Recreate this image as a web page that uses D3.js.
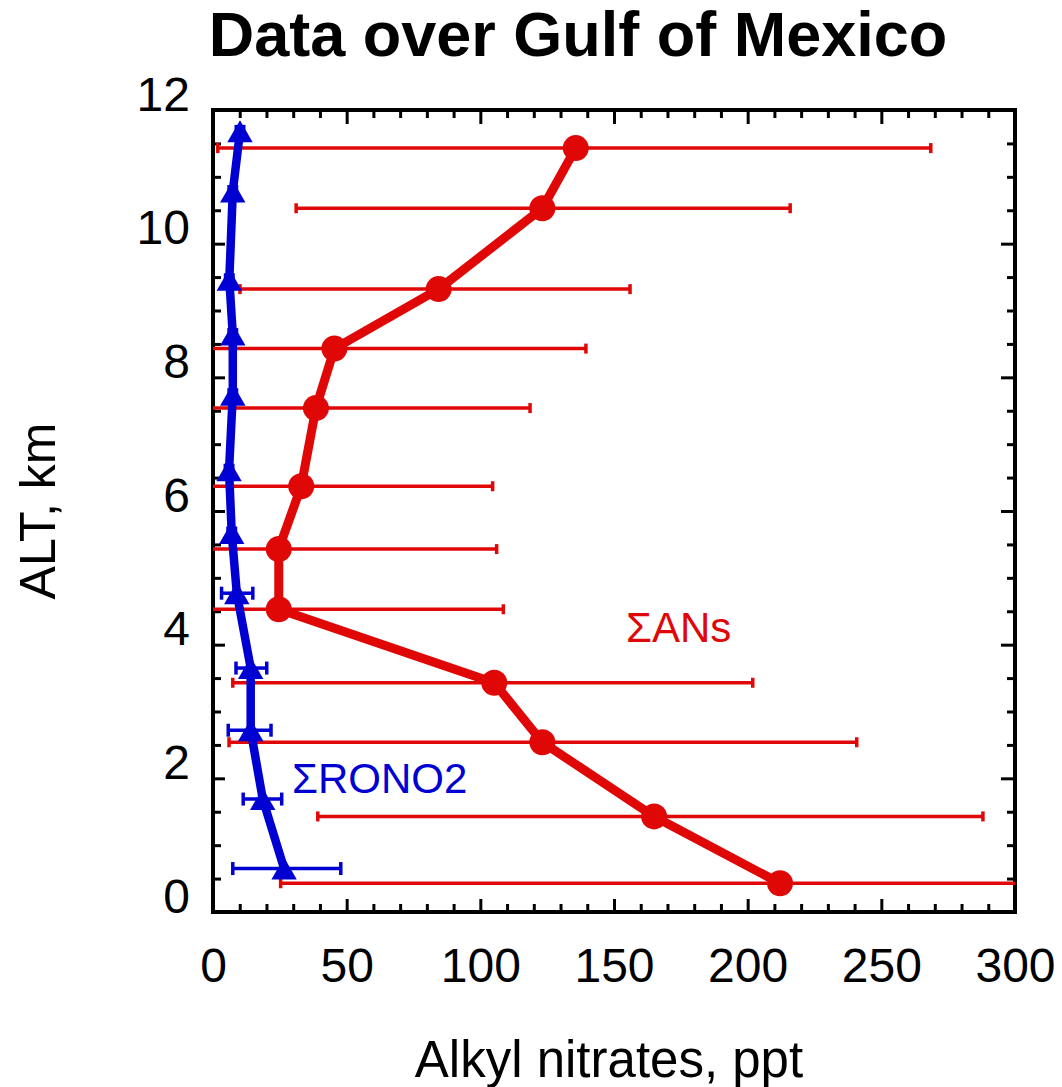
<!DOCTYPE html>
<html>
<head>
<meta charset="utf-8">
<script src="https://cdn.jsdelivr.net/npm/d3@7/dist/d3.min.js"></script>
<style>
  html, body { margin: 0; padding: 0; background: #fff; }
  svg { display: block; font-family: "Liberation Sans", Arial, sans-serif; }
</style>
</head>
<body>
<svg id="chart" width="1062" height="1087"></svg>
<script>
// ---- Data ----
const anAlt = [0.43, 1.43, 2.54, 3.43, 4.53, 5.43, 6.37, 7.54, 8.43, 9.32, 10.53, 11.43];
const anVal = [212.1, 165.0, 123.2, 105.2, 24.6, 24.6, 33.0, 38.5, 45.4, 84.4, 123.2, 135.7];
const anLo  = [25.3, 39.2, 6.0, 7.4, -10, -10, -10, -10, -10, 10.1, 31.1, 1.8];
const anHi  = [340, 288.0, 240.8, 201.9, 108.6, 106.1, 104.6, 118.6, 139.5, 156.0, 215.9, 268.5];

const roAlt = [0.65, 1.69, 2.72, 3.65, 4.77, 5.67, 6.61, 7.74, 8.64, 9.46, 10.78, 11.68];
const roVal = [26.6, 18.6, 14.1, 14.1, 8.9, 7.0, 6.0, 7.4, 7.4, 6.1, 7.4, 10.1];
const roLo  = [7.4, 11.3, 5.7, 8.6, 3.2, 5.6, 4.6, 6.0, 6.0, 4.7, 6.0, 8.7];
const roHi  = [47.8, 25.7, 21.7, 20.1, 14.9, 8.4, 7.4, 8.8, 8.8, 7.5, 8.8, 11.5];

const xTicks = [0, 50, 100, 150, 200, 250, 300];
const yTicks = [0, 2, 4, 6, 8, 10, 12];
const xMinor = d3.range(0, 301, 10);
const yMinor = d3.range(0, 12.01, 0.5);

const titleText = "Data over Gulf of Mexico";
const xLabel = "Alkyl nitrates, ppt";
const yLabel = "ALT, km";
const anLabel = "\u03A3ANs";
const roLabel = "\u03A3RONO2";

// ---- Layout ----
const RED = "#e00707", BLUE = "#0000d2";
const L = 213, R = 1015, T = 110, B = 912;
const svg = d3.select("#chart");
const x = d3.scaleLinear().domain([0, 300]).range([L, R]);
const y = d3.scaleLinear().domain([0, 12]).range([B, T]);

svg.append("defs").append("clipPath").attr("id", "plotclip")
  .append("rect").attr("x", L).attr("y", T).attr("width", R - L).attr("height", B - T);

// ---- Axes (ticks inward on all four sides) ----
function addAxis(gen, tx, ty, vals, size) {
  const g = svg.append("g").attr("transform", `translate(${tx},${ty})`)
    .call(gen.tickValues(vals).tickSize(size).tickSizeOuter(0).tickFormat(""));
  g.select(".domain").remove();
  g.selectAll(".tick line").attr("stroke", "#000").attr("stroke-width", 3);
  return g;
}
const xMinorOnly = xMinor.filter(v => v % 50 !== 0);
const yMinorOnly = yMinor.filter(v => v % 2 !== 0);
addAxis(d3.axisTop(x), 0, B, xMinorOnly, 8);
addAxis(d3.axisTop(x), 0, B, xTicks, 13);
addAxis(d3.axisBottom(x), 0, T, xMinorOnly, 8);
addAxis(d3.axisBottom(x), 0, T, xTicks, 14);
addAxis(d3.axisRight(y), L, 0, yMinorOnly, 8);
addAxis(d3.axisRight(y), L, 0, yTicks, 12);
addAxis(d3.axisLeft(y), R, 0, yMinorOnly, 8);
addAxis(d3.axisLeft(y), R, 0, yTicks, 14);

// tick labels
const xl = svg.append("g").attr("transform", `translate(0,${B})`)
  .call(d3.axisBottom(x).tickValues(xTicks).tickSize(0).tickPadding(70));
xl.select(".domain").remove();
xl.selectAll("text").attr("font-size", 48).attr("font-family", "Liberation Sans, Arial, sans-serif")
  .attr("fill", "#000").attr("dy", 0);

const yl = svg.append("g").attr("transform", `translate(${L},0)`)
  .call(d3.axisLeft(y).tickValues(yTicks).tickSize(0).tickPadding(23));
yl.select(".domain").remove();
yl.selectAll("text").attr("font-size", 48).attr("font-family", "Liberation Sans, Arial, sans-serif")
  .attr("fill", "#000").attr("dy", "0.0em");

// frame
svg.append("rect").attr("x", L).attr("y", T).attr("width", R - L).attr("height", B - T)
  .attr("fill", "none").attr("stroke", "#000").attr("stroke-width", 4);

// ---- Error bars ----
function errorBars(alt, lo, hi, color, capH, cls) {
  const g = svg.append("g").attr("clip-path", "url(#plotclip)");
  const idx = d3.range(alt.length);
  g.selectAll("line.h" + cls).data(idx).join("line")
    .attr("x1", i => x(lo[i])).attr("x2", i => x(hi[i]))
    .attr("y1", i => y(alt[i])).attr("y2", i => y(alt[i]))
    .attr("stroke", color).attr("stroke-width", 3.5);
  ["lo", "hi"].forEach(side => {
    const arr = side === "lo" ? lo : hi;
    g.selectAll("line.c" + side + cls).data(idx).join("line")
      .attr("x1", i => x(arr[i])).attr("x2", i => x(arr[i]))
      .attr("y1", i => y(alt[i]) - capH / 2).attr("y2", i => y(alt[i]) + capH / 2)
      .attr("stroke", color).attr("stroke-width", 3.5);
  });
}

// ---- ΣANs (red) ----
errorBars(anAlt, anLo, anHi, RED, 10, "an");
const line = d3.line().x(d => x(d[0])).y(d => y(d[1]));
svg.append("path").datum(d3.zip(anVal, anAlt)).attr("d", line)
  .attr("fill", "none").attr("stroke", RED).attr("stroke-width", 9).attr("stroke-linejoin", "round");
svg.append("g").selectAll("circle").data(d3.zip(anVal, anAlt)).join("circle")
  .attr("cx", d => x(d[0])).attr("cy", d => y(d[1])).attr("r", 13).attr("fill", RED);

// ---- ΣRONO2 (blue) ----
errorBars(roAlt, roLo, roHi, BLUE, 13, "ro");
svg.append("path").datum(d3.zip(roVal, roAlt)).attr("d", line)
  .attr("fill", "none").attr("stroke", BLUE).attr("stroke-width", 8.5).attr("stroke-linejoin", "round");
const tri = d3.symbol().type(d3.symbolTriangle).size(280);
svg.append("g").selectAll("path").data(d3.zip(roVal, roAlt)).join("path")
  .attr("d", tri).attr("fill", BLUE)
  .attr("transform", d => `translate(${x(d[0])},${y(d[1]) + 3.6})`);

// ---- Text ----
svg.append("text").attr("x", 578).attr("y", 56).attr("text-anchor", "middle")
  .attr("font-size", 63).attr("font-weight", "bold").attr("fill", "#000").text(titleText);
svg.append("text").attr("x", 609).attr("y", 1077).attr("text-anchor", "middle")
  .attr("font-size", 51).attr("fill", "#000").text(xLabel);
svg.append("text").attr("transform", `translate(55,${(T + B) / 2}) rotate(-90)`)
  .attr("text-anchor", "middle").attr("font-size", 50).attr("fill", "#000").text(yLabel);
svg.append("text").attr("x", 626).attr("y", 642).attr("font-size", 42).attr("fill", RED).text(anLabel);
svg.append("text").attr("x", 292).attr("y", 793).attr("font-size", 42).attr("fill", BLUE).text(roLabel);
</script>
</body>
</html>
